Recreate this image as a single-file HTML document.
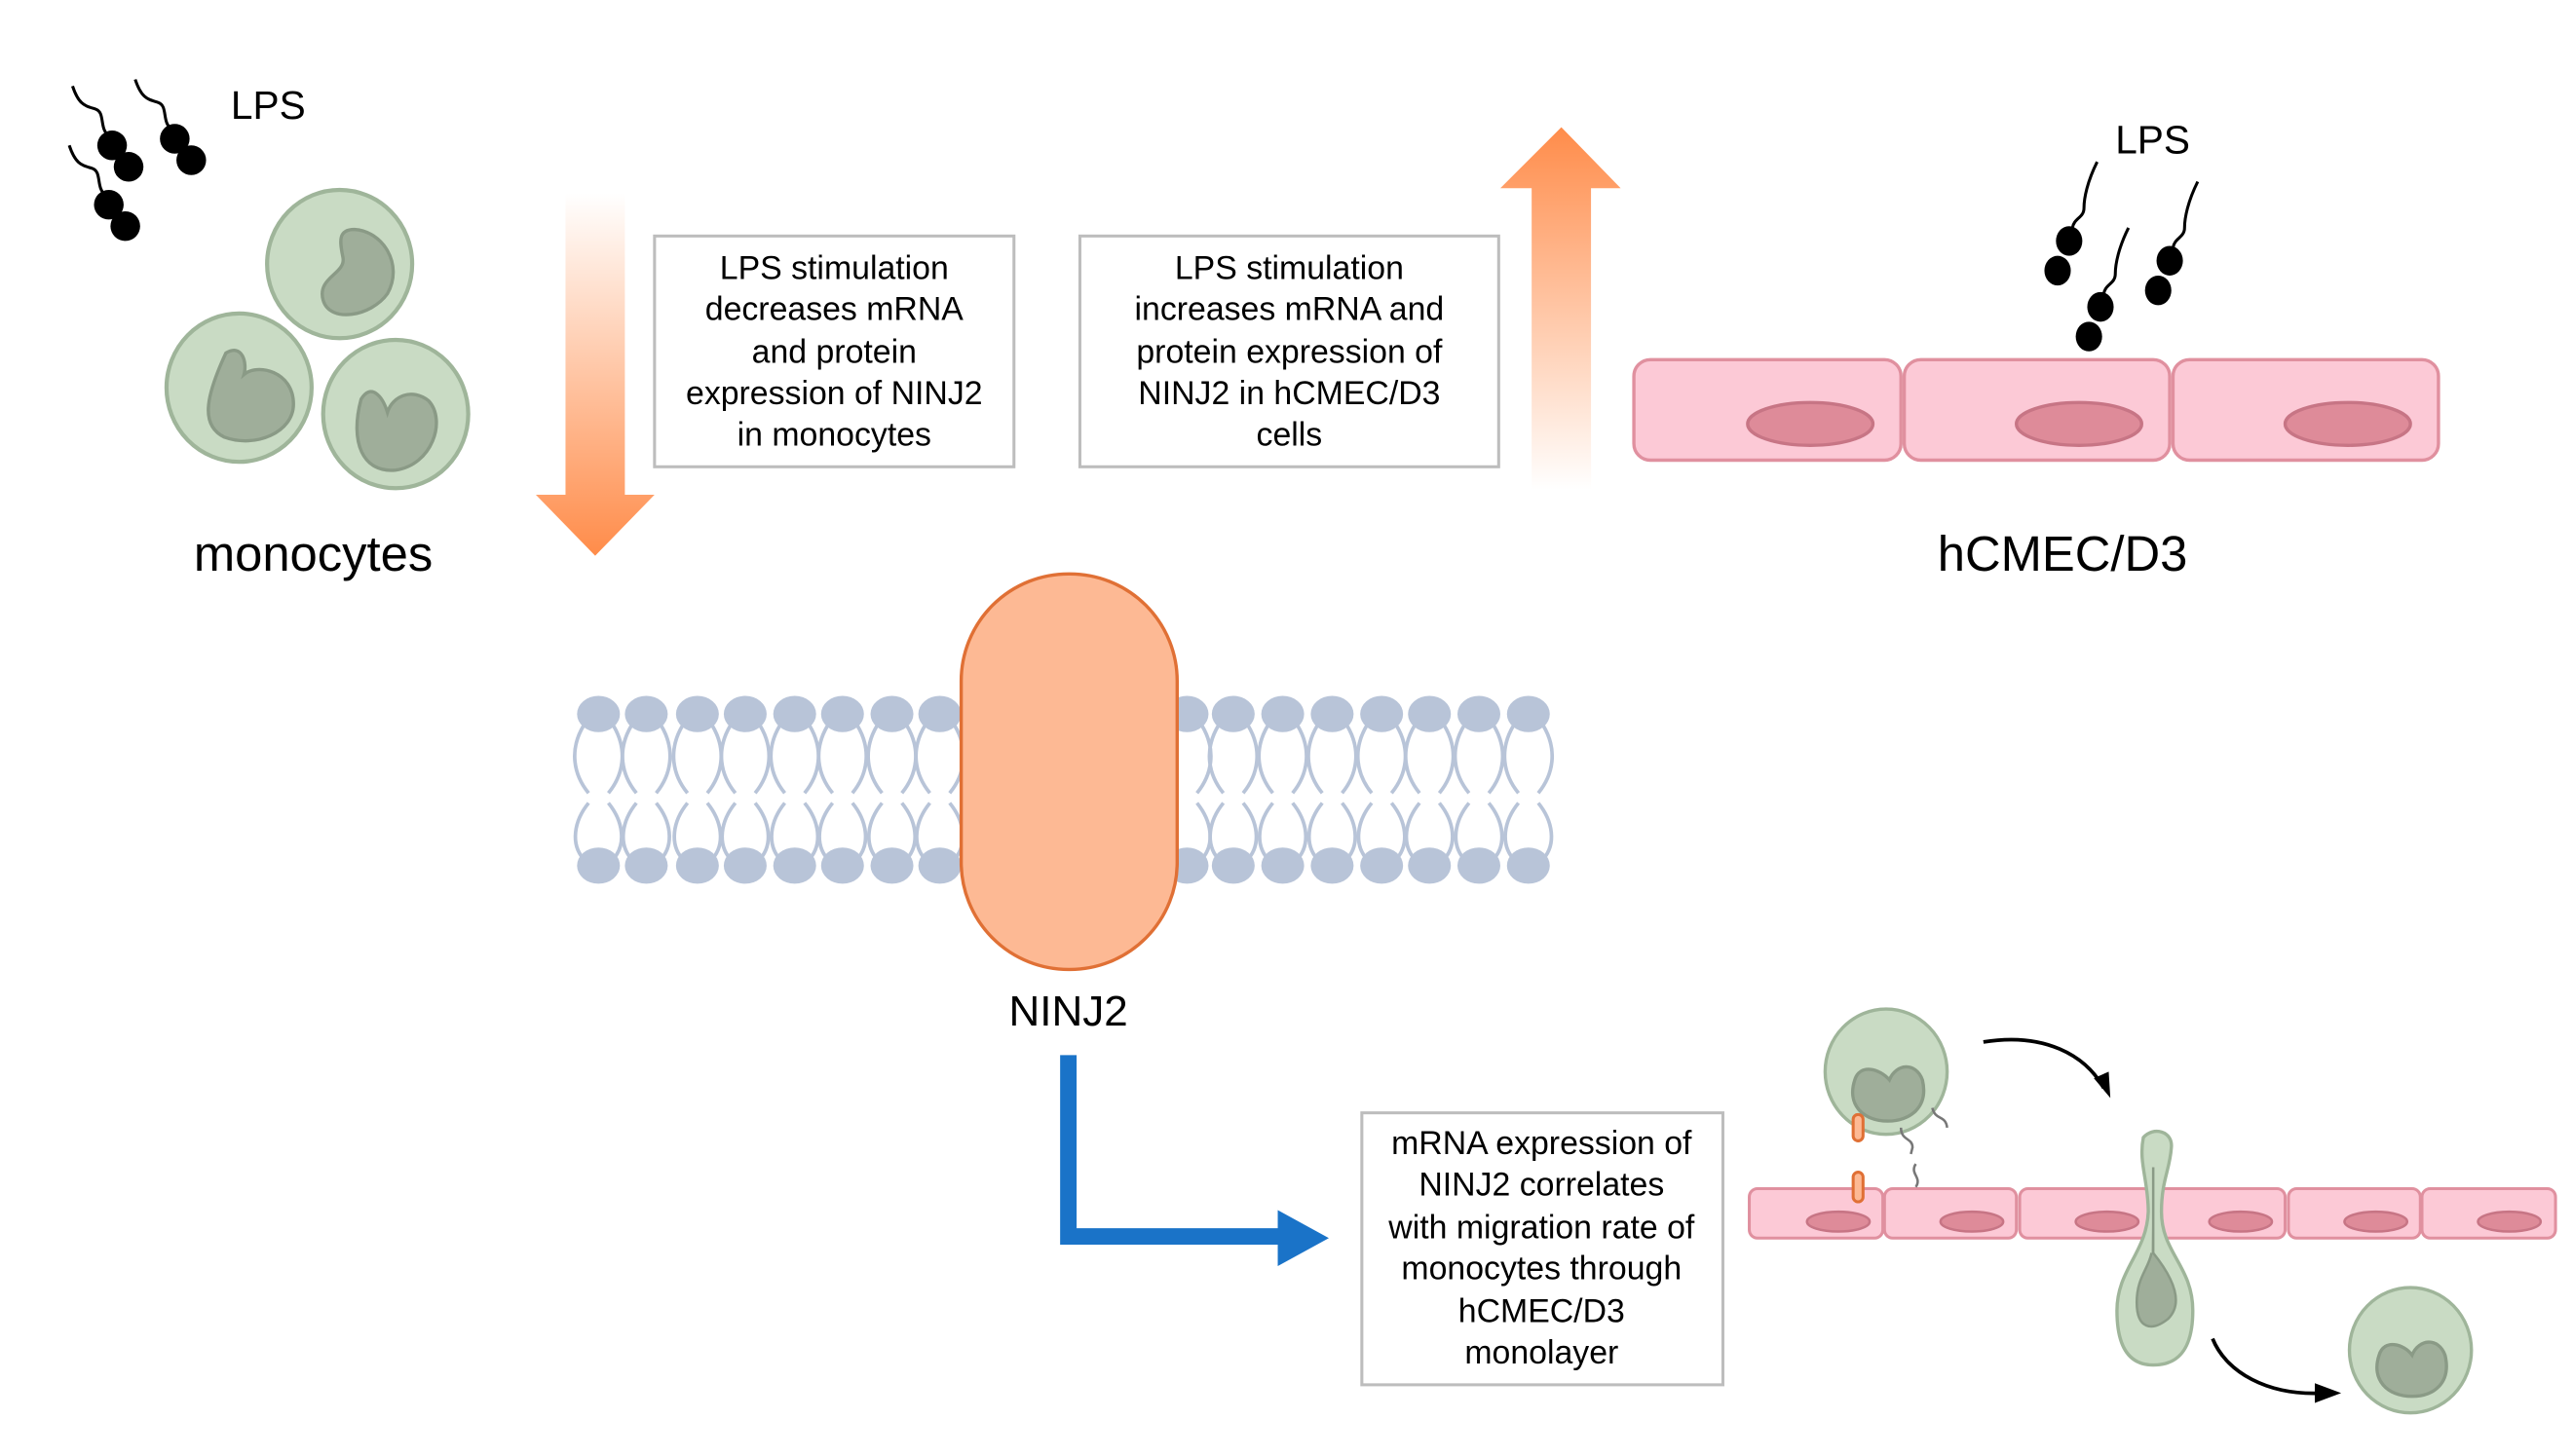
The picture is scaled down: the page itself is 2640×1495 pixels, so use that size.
<!DOCTYPE html>
<html><head><meta charset="utf-8"><style>
html,body{margin:0;padding:0;background:#fff;}
svg{display:block;}
text{font-family:"Liberation Sans",Arial,sans-serif;fill:#000;}
</style></head><body>
<svg width="2640" height="1495" viewBox="0 0 1560 883" xmlns="http://www.w3.org/2000/svg">
<defs>
<linearGradient id="gd" x1="0" y1="0" x2="0" y2="1"><stop offset="0" stop-color="#fff"/><stop offset="1" stop-color="#ff8c4a"/></linearGradient>
<linearGradient id="gu" x1="0" y1="0" x2="0" y2="1"><stop offset="0" stop-color="#ff8c4a"/><stop offset="1" stop-color="#fff"/></linearGradient>
<g id="L">
<g fill="none" stroke="#b8c4d8" stroke-width="2.2">
<path d="M-9,440 C-18,455 -15,470 -6,481"/><path d="M9,440 C18,455 15,470 6,481"/>
<path d="M-6,487 C-15,498 -17,512 -9,521"/><path d="M6,487 C15,498 17,512 9,521"/>
</g>
<ellipse cx="0" cy="433" rx="13" ry="11" fill="#b8c4d8"/>
<ellipse cx="0" cy="525" rx="13" ry="11" fill="#b8c4d8"/>
</g>
<g id="bac">
<path d="M0,0 C4,12 8,12 14,14 C20,16 16,26 22,30" fill="none" stroke="#000" stroke-width="1.8"/>
<circle cx="24" cy="36" r="9" fill="#000"/><circle cx="34" cy="49" r="9" fill="#000"/>
</g>
<g id="bac2">
<path d="M0,0 C-6,12 -8,22 -8,28 C-8,34 -14,34 -15,40" fill="none" stroke="#000" stroke-width="1.8"/>
<ellipse cx="-17" cy="48" rx="8" ry="9" fill="#000"/><ellipse cx="-24" cy="66" rx="8" ry="9" fill="#000"/>
</g>
</defs>

<!-- top-left LPS -->
<text x="140" y="72" font-size="24">LPS</text>
<use href="#bac" x="44" y="52"/>
<use href="#bac" x="82" y="48"/>
<use href="#bac" x="42" y="88"/>

<!-- monocytes -->
<g stroke="#9fb59a" stroke-width="2.5" fill="#c9dbc4">
<ellipse cx="206" cy="160" rx="44" ry="45"/>
<ellipse cx="145" cy="235" rx="44" ry="45"/>
<ellipse cx="240" cy="251" rx="44" ry="45"/>
</g>
<g fill="#9fae9a" stroke="#8a9a86" stroke-width="2">
<path d="M215,139 C232,140 245,160 235,178 C225,192 200,196 196,182 C192,168 210,166 208,156 C206,146 205,139 215,139Z"/>
<path d="M137,214 C147,208 150,220 148,227 C156,220 178,225 178,245 C178,262 155,272 136,265 C122,258 124,242 137,214Z"/>
<path d="M219,242 C225,232 232,240 235,250 C238,240 250,235 260,243 C271,255 262,282 240,285 C220,287 212,268 219,242Z"/>
</g>
<text x="190" y="346" font-size="30" text-anchor="middle">monocytes</text>

<!-- down arrow -->
<path d="M343,117 H379 V300 H397 L361,337 L325,300 H343 Z" fill="url(#gd)"/>

<!-- box1 -->
<rect x="397" y="143" width="218" height="140" fill="#fff" stroke="#bdbdbd" stroke-width="1.8"/>
<g font-size="20" text-anchor="middle">
<text x="506" y="169">LPS stimulation</text>
<text x="506" y="194">decreases mRNA</text>
<text x="506" y="220">and protein</text>
<text x="506" y="245">expression of NINJ2</text>
<text x="506" y="270">in monocytes</text>
</g>
<!-- box2 -->
<rect x="655" y="143" width="254" height="140" fill="#fff" stroke="#bdbdbd" stroke-width="1.8"/>
<g font-size="20" text-anchor="middle">
<text x="782" y="169">LPS stimulation</text>
<text x="782" y="194">increases mRNA and</text>
<text x="782" y="220">protein expression of</text>
<text x="782" y="245">NINJ2 in hCMEC/D3</text>
<text x="782" y="270">cells</text>
</g>

<!-- up arrow -->
<path d="M929,297 H965 V114 H983 L947,77 L910,114 H929 Z" fill="url(#gu)"/>

<!-- right LPS -->
<text x="1283" y="93" font-size="24">LPS</text>
<use href="#bac2" x="1272" y="98"/>
<use href="#bac2" x="1333" y="110"/>
<use href="#bac2" x="1291" y="138"/>

<!-- endothelial -->
<g fill="#fcc9d6" stroke="#e0909f" stroke-width="2">
<rect x="991" y="218" width="162" height="61" rx="10"/>
<rect x="1155" y="218" width="161" height="61" rx="10"/>
<rect x="1318" y="218" width="161" height="61" rx="10"/>
</g>
<g fill="#de8b99" stroke="#c77585" stroke-width="2">
<ellipse cx="1098" cy="257" rx="38" ry="13"/>
<ellipse cx="1261" cy="257" rx="38" ry="13"/>
<ellipse cx="1424" cy="257" rx="38" ry="13"/>
</g>
<text x="1251" y="346" font-size="30" text-anchor="middle">hCMEC/D3</text>

<!-- membrane -->
<use href="#L" x="363"/><use href="#L" x="392"/><use href="#L" x="423"/><use href="#L" x="452"/>
<use href="#L" x="482"/><use href="#L" x="511"/><use href="#L" x="541"/><use href="#L" x="570"/>
<use href="#L" x="720"/><use href="#L" x="748"/><use href="#L" x="778"/><use href="#L" x="808"/>
<use href="#L" x="838"/><use href="#L" x="867"/><use href="#L" x="897"/><use href="#L" x="927"/>
<rect x="583" y="348" width="131" height="240" rx="65" fill="#fdb994" stroke="#e07035" stroke-width="2"/>
<text x="648" y="622" font-size="26" text-anchor="middle">NINJ2</text>

<!-- blue arrow -->
<path d="M648,640 V750 H778" fill="none" stroke="#1a73c8" stroke-width="10"/>
<path d="M775,734 L806,751 L775,768 Z" fill="#1a73c8"/>

<!-- box3 -->
<rect x="826" y="675" width="219" height="165" fill="#fff" stroke="#bdbdbd" stroke-width="1.8"/>
<g font-size="20" text-anchor="middle">
<text x="935" y="700">mRNA expression of</text>
<text x="935" y="725">NINJ2 correlates</text>
<text x="935" y="751">with migration rate of</text>
<text x="935" y="776">monocytes through</text>
<text x="935" y="802">hCMEC/D3</text>
<text x="935" y="827">monolayer</text>
</g>

<!-- bottom right monolayer -->
<g fill="#fcc9d6" stroke="#e0909f" stroke-width="1.8">
<rect x="1061" y="721" width="81" height="30" rx="5"/>
<rect x="1143" y="721" width="80" height="30" rx="5"/>
<rect x="1225" y="721" width="80" height="30" rx="5"/>
<rect x="1306" y="721" width="80" height="30" rx="5"/>
<rect x="1388" y="721" width="80" height="30" rx="5"/>
<rect x="1469" y="721" width="81" height="30" rx="5"/>
</g>
<g fill="#de8b99" stroke="#c77585" stroke-width="1.5">
<ellipse cx="1115" cy="741" rx="19" ry="6"/>
<ellipse cx="1196" cy="741" rx="19" ry="6"/>
<ellipse cx="1278" cy="741" rx="19" ry="6"/>
<ellipse cx="1359" cy="741" rx="19" ry="6"/>
<ellipse cx="1441" cy="741" rx="19" ry="6"/>
<ellipse cx="1522" cy="741" rx="19" ry="6"/>
</g>
<!-- top monocyte -->
<ellipse cx="1144" cy="650" rx="37" ry="38" fill="#c9dbc4" stroke="#9fb59a" stroke-width="2"/>
<path d="M1125,655 C1128,645 1140,648 1146,655 C1150,645 1162,644 1166,655 C1170,672 1158,680 1145,680 C1130,680 1120,670 1125,655Z" fill="#9fae9a" stroke="#8a9a86" stroke-width="2"/>
<g fill="#fdb994" stroke="#e07035" stroke-width="1.8">
<rect x="1124" y="676" width="6" height="16" rx="3"/>
<rect x="1124" y="711" width="6" height="18" rx="3"/>
</g>
<g fill="none" stroke="#777" stroke-width="1.5">
<path d="M1153,684 C1153,692 1160,690 1160,696 L1159,700"/>
<path d="M1172,672 C1174,680 1180,676 1181,684"/>
<path d="M1162,706 C1158,712 1166,714 1162,720"/>
</g>
<!-- migrating cell -->
<path d="M1300,690 C1306,683 1318,686 1317,696 C1316,710 1311,716 1311,735 C1311,760 1330,768 1330,795 C1330,820 1320,828 1306,828 C1292,828 1284,818 1284,795 C1284,770 1302,760 1303,735 C1303,716 1297,705 1300,690Z" fill="#c9dbc4" stroke="#9fb59a" stroke-width="2"/>
<path d="M1306,708 L1306,760 C1318,775 1325,790 1315,800 C1305,808 1296,806 1296,790 C1296,775 1303,770 1305,760" fill="#9fae9a" stroke="#8a9a86" stroke-width="1.5"/>
<!-- bottom monocyte -->
<ellipse cx="1462" cy="819" rx="37" ry="38" fill="#c9dbc4" stroke="#9fb59a" stroke-width="2"/>
<path d="M1443,822 C1446,812 1458,815 1463,822 C1467,812 1479,811 1483,822 C1487,839 1476,847 1463,847 C1448,847 1438,837 1443,822Z" fill="#9fae9a" stroke="#8a9a86" stroke-width="2"/>
<!-- curved arrows -->
<path d="M1203,632 C1240,626 1265,640 1276,660" fill="none" stroke="#000" stroke-width="2.2"/>
<path d="M1270,654 L1280,666 L1279,650 Z" fill="#000"/>
<path d="M1342,812 C1350,832 1375,847 1410,845" fill="none" stroke="#000" stroke-width="2.2"/>
<path d="M1404,839 L1420,845 L1404,851 Z" fill="#000"/>
</svg>
</body></html>
